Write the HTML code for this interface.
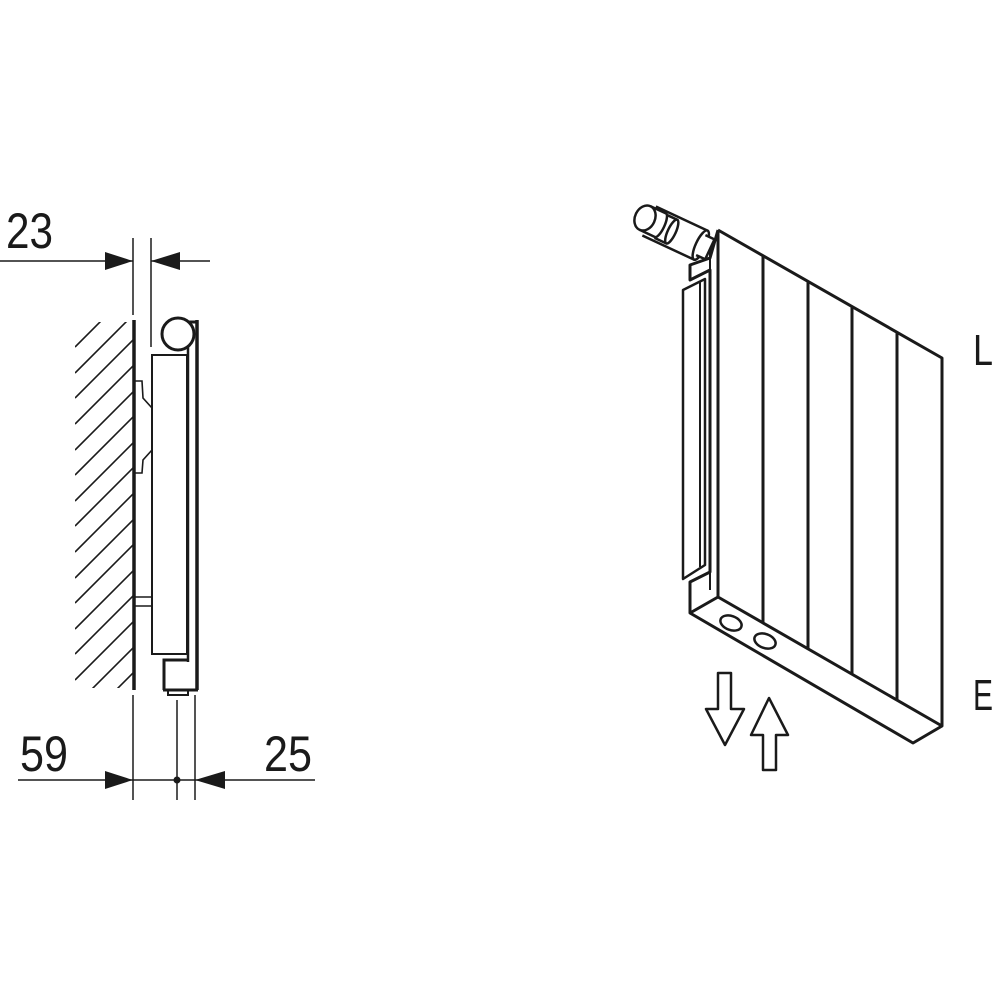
<!DOCTYPE html>
<html><head><style>html,body{margin:0;padding:0;background:#fff}svg{display:block}</style></head>
<body>
<svg width="1000" height="1000" viewBox="0 0 1000 1000" xmlns="http://www.w3.org/2000/svg">
<defs><clipPath id="hc"><rect x="75" y="322" width="58" height="366"/></clipPath></defs>
<g fill="none" stroke="#1a1a1a" stroke-width="2">
<!-- top dims -->
<line x1="133" y1="238" x2="133" y2="315" stroke-width="1.5"/>
<line x1="151" y1="238" x2="151" y2="347" stroke-width="1.5"/>
<line x1="0" y1="261" x2="133" y2="261" stroke-width="1.5"/>
<line x1="151" y1="261" x2="210" y2="261" stroke-width="1.5"/>
<!-- hatching -->
<g clip-path="url(#hc)" stroke-width="1.6">
<line x1="75" y1="347" x2="160" y2="262"/><line x1="75" y1="373" x2="160" y2="288"/><line x1="75" y1="398" x2="160" y2="313"/><line x1="75" y1="424" x2="160" y2="339"/><line x1="75" y1="450" x2="160" y2="365"/><line x1="75" y1="475" x2="160" y2="390"/><line x1="75" y1="501" x2="160" y2="416"/><line x1="75" y1="526" x2="160" y2="441"/><line x1="75" y1="552" x2="160" y2="467"/><line x1="75" y1="578" x2="160" y2="493"/><line x1="75" y1="603" x2="160" y2="518"/><line x1="75" y1="629" x2="160" y2="544"/><line x1="75" y1="654" x2="160" y2="569"/><line x1="75" y1="680" x2="160" y2="595"/><line x1="75" y1="706" x2="160" y2="621"/><line x1="75" y1="731" x2="160" y2="646"/><line x1="75" y1="757" x2="160" y2="672"/>
</g>
<!-- wall -->
<line x1="134" y1="320" x2="134" y2="690" stroke-width="3.5"/>
<!-- radiator side -->
<rect x="152" y="355" width="35" height="299"/>
<line x1="188" y1="322" x2="188" y2="662" stroke-width="2.5"/>
<line x1="197" y1="320" x2="197" y2="690" stroke-width="3.5"/>
<line x1="186" y1="322" x2="198" y2="322" stroke-width="3"/>
<circle cx="178" cy="334" r="16" fill="#fff" stroke-width="3"/>
<path d="M164,690 V660 H188 M163,690 H198" stroke-width="3"/>
<rect x="168" y="690" width="20" height="5"/>
<path d="M135,381 H142 L143,398 L152,408 M152,450 L143,460 L142,473 H135" stroke-width="1.6"/>
<path d="M135,597 H152 M135,606 H152" stroke-width="1.4"/>
<!-- bottom dims -->
<line x1="133" y1="695" x2="133" y2="800" stroke-width="1.5"/>
<line x1="177" y1="700" x2="177" y2="800" stroke-width="1.5"/>
<line x1="195" y1="695" x2="195" y2="800" stroke-width="1.5"/>
<line x1="18" y1="780" x2="133" y2="780" stroke-width="1.5"/>
<line x1="195" y1="780" x2="315" y2="780" stroke-width="1.5"/>
<line x1="133" y1="780" x2="195" y2="780" stroke-width="1.5"/>
</g>
<g fill="#1a1a1a">
<polygon points="105,252 133,261 105,270"/>
<polygon points="180,252 151,261 180,270"/>
<polygon points="105,771 133,780 105,789"/>
<polygon points="225,771 195,780 225,789"/>
<circle cx="177" cy="780" r="3.5"/>
</g>
<g font-family="Liberation Sans, sans-serif" font-size="50" fill="#1a1a1a">
<text x="6" y="248" textLength="47" lengthAdjust="spacingAndGlyphs">23</text>
<text x="20" y="771" textLength="48" lengthAdjust="spacingAndGlyphs">59</text>
<text x="264" y="771" textLength="48" lengthAdjust="spacingAndGlyphs">25</text>
<text x="973" y="365" font-size="44" textLength="20" lengthAdjust="spacingAndGlyphs">L</text>
<text x="973" y="710" font-size="44" textLength="20" lengthAdjust="spacingAndGlyphs">E</text>
</g>
<!-- iso radiator -->
<g fill="none" stroke="#1a1a1a" stroke-width="3" stroke-linejoin="round">
<path d="M683,290 L705,279 V565 L683,579 Z" stroke-width="2.5"/>
<line x1="700" y1="282" x2="700" y2="567" stroke-width="2"/>
<path d="M718,230 L942,358 V726 L913,743 L690,613 V582 L710,572 V270 L690,280 V265 L710,258 L718,230" fill="#fff"/>
<line x1="718" y1="230" x2="718" y2="597"/>
<line x1="710" y1="237" x2="710" y2="590" stroke-width="2"/>
<path d="M718,597 L942,726" />
<path d="M690,613 L718,597" />
<path d="M763,255 V623 M808,281 V649 M852,306 V674 M897,332 V700"/>
<ellipse cx="731" cy="623" rx="11" ry="7" stroke-width="2.5" transform="rotate(20 731 623)"/>
<ellipse cx="765" cy="641" rx="11" ry="7" stroke-width="2.5" transform="rotate(20 765 641)"/>
<!-- valve -->
<g transform="translate(645,218) rotate(25)" stroke-width="2.5" fill="#fff">
<path d="M5,-15 H62 A4,16 0 0 1 62,17 H5"/>
<ellipse cx="62" cy="1" rx="5" ry="16"/>
<path d="M17,-12 H30 V14 H17"/>
<ellipse cx="30" cy="1" rx="4" ry="13"/>
<path d="M0,-13 H17 A4,13 0 0 1 17,13 H0"/>
<ellipse cx="0" cy="0" rx="10" ry="13"/>
<path d="M62,-10 H72 V12 H62" />
</g>
<!-- arrows -->
<path d="M718,673 H731 V709 H744 L725,745 L706,709 H718 Z" stroke-width="2.5"/>
<path d="M769,698 L788,735 H776 V770 H763 V735 H751 Z" stroke-width="2.5"/>
</g>
</svg>
</body></html>
